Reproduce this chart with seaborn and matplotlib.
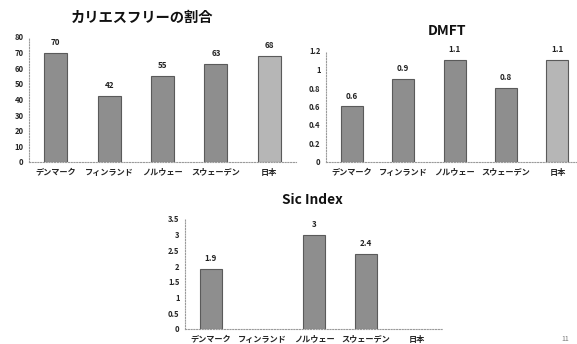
import matplotlib
matplotlib.use("Agg")
import matplotlib.pyplot as plt
import seaborn as sns
import numpy as np
import pandas as pd

countries = ["デンマーク", "フィンランド", "ノルウェー", "スウェーデン", "日本"]
caries_free = [70, 42, 55, 63, 68]
dmft = [0.6, 0.9, 1.1, 0.8, 1.1]
sic_index = [1.9, np.nan, 3.0, 2.4, np.nan]

caries_ticks = [0, 10, 20, 30, 40, 50, 60, 70, 80]
dmft_ticks = [0, 0.2, 0.4, 0.6, 0.8, 1, 1.2]
sic_ticks = [0, 0.5, 1, 1.5, 2, 2.5, 3, 3.5]

sns.set_theme(style="white")
plt.rcParams["font.family"] = ["Noto Sans CJK JP", "DejaVu Sans"]

W, H = 577, 344
fig = plt.figure(figsize=(W / 100, H / 100), dpi=100)
fig.patch.set_facecolor("white")

bar_colors = ["#8e8e8e", "#8e8e8e", "#8e8e8e", "#8e8e8e", "#b6b6b6"]


def px_axes(left, right, top, bottom):
    return fig.add_axes([left / W, 1 - bottom / H, (right - left) / W, (bottom - top) / H])


def panel(ax, values, ticks, title, title_xy, title_size, xmax=4.5):
    df = pd.DataFrame({"country": countries, "value": values})
    sns.barplot(data=df, x="country", y="value", hue="country", palette=bar_colors,
                order=countries, width=0.43, legend=False, ax=ax,
                edgecolor="#5a5a5a", linewidth=0.8)
    ax.set_xlim(-0.5, xmax)
    ax.set_ylim(0, ticks[-1])
    ax.set_yticks(ticks)
    ax.set_yticklabels([f"{t:g}" for t in ticks], fontsize=5.5, fontweight="bold")
    ax.set_xticks(range(len(countries)))
    ax.set_xticklabels(countries, fontsize=5.9, fontweight="bold")
    ax.tick_params(axis="both", length=0, pad=4)
    ax.set_xlabel("")
    ax.set_ylabel("")
    ax.set_facecolor("white")
    for side in ["top", "right"]:
        ax.spines[side].set_visible(False)
    for side in ["left", "bottom"]:
        ax.spines[side].set_color("#9a9a9a")
        ax.spines[side].set_linestyle((0, (1, 1.5)))
        ax.spines[side].set_linewidth(0.8)
    for i, v in enumerate(values):
        if np.isnan(v):
            continue
        ax.annotate(f"{v:g}", (i, v), xytext=(0, 7.5), textcoords="offset points",
                    ha="center", va="center", fontsize=5.8, fontweight="bold",
                    color="#222222")
    fig.text(title_xy[0] / W, 1 - title_xy[1] / H, title, ha="center", va="center",
             fontsize=title_size, fontweight="bold", color="#111111")


ax1 = px_axes(29, 296, 37, 162)
panel(ax1, caries_free, caries_ticks, "カリエスフリーの割合", (142, 18), 10.3)

ax2 = px_axes(326, 578, 51, 162)
panel(ax2, dmft, dmft_ticks, "DMFT", (447, 31), 10, xmax=4.4)

ax3 = px_axes(185, 443, 219, 329)
panel(ax3, sic_index, sic_ticks, "Sic Index", (312, 200), 9.8)

fig.text(565 / W, 1 - 339 / H, "11", ha="center", va="center", fontsize=5,
         color="#777777")

fig.savefig("out.png", dpi=100)
